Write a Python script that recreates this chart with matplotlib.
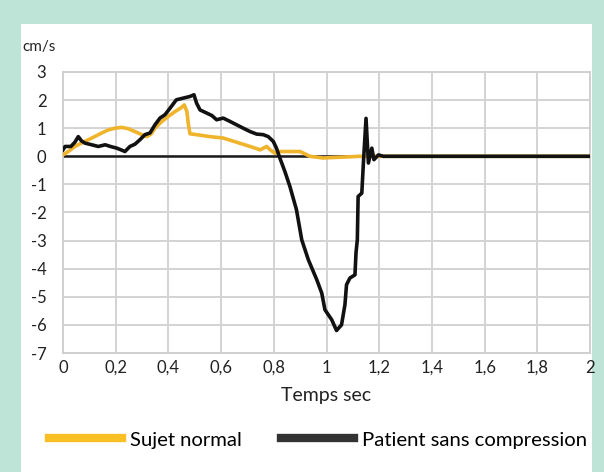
import matplotlib
matplotlib.use("Agg")
import matplotlib.pyplot as plt
from matplotlib.patches import Rectangle

# Courbes (temps en s, vitesse en cm/s)
t_patient = [0, 0.008, 0.03, 0.045, 0.058, 0.07, 0.083, 0.109, 0.134, 0.16, 0.18,
             0.204, 0.22, 0.235, 0.254, 0.273, 0.292, 0.311, 0.33, 0.349, 0.368,
             0.387, 0.406, 0.43, 0.456, 0.482, 0.497, 0.507, 0.52, 0.545, 0.565,
             0.583, 0.608, 0.634, 0.659, 0.684, 0.71, 0.735, 0.76, 0.779, 0.798,
             0.81, 0.823, 0.842, 0.861, 0.886, 0.906, 0.931, 0.963, 0.982, 0.994,
             1.02, 1.038, 1.057, 1.07, 1.076, 1.089, 1.108, 1.112, 1.117, 1.12,
             1.134, 1.14, 1.15, 1.159, 1.172, 1.18, 1.197, 1.216, 1.4, 1.6, 1.8, 2.0]
v_patient = [0.23, 0.35, 0.35, 0.5, 0.70, 0.55, 0.47, 0.41, 0.35, 0.41, 0.35,
             0.29, 0.23, 0.17, 0.35, 0.43, 0.59, 0.77, 0.83, 1.12, 1.36,
             1.48, 1.71, 2.01, 2.07, 2.13, 2.19, 1.89, 1.65, 1.54, 1.45,
             1.30, 1.36, 1.24, 1.12, 1.0, 0.88, 0.79, 0.77, 0.70, 0.53,
             0.29, -0.06, -0.54, -1.07, -1.9, -2.97, -3.68, -4.39, -4.87, -5.46,
             -5.82, -6.2, -6.0, -5.28, -4.57, -4.33, -4.22, -3.43, -2.97, -1.43,
             -1.31, -0.24, 1.35, -0.24, 0.29, -0.12, 0.05, 0, 0, 0, 0, 0]

t_normal = [0, 0.02, 0.045, 0.07, 0.096, 0.12, 0.147, 0.172, 0.197, 0.223, 0.248,
            0.273, 0.299, 0.318, 0.335, 0.349, 0.375, 0.4, 0.425, 0.45, 0.46, 0.47,
            0.476, 0.482, 0.507, 0.558, 0.608, 0.659, 0.71, 0.748, 0.773, 0.786,
            0.805, 0.823, 0.9, 0.937, 0.987, 1.127, 1.4, 1.6, 1.8, 2.0]
v_normal = [0.05, 0.17, 0.35, 0.47, 0.59, 0.70, 0.83, 0.94, 1.0, 1.03, 0.98,
            0.88, 0.77, 0.70, 0.80, 1.0, 1.24, 1.42, 1.59, 1.74, 1.83, 1.6,
            1.12, 0.8, 0.77, 0.70, 0.65, 0.50, 0.35, 0.23, 0.35, 0.23,
            0.11, 0.17, 0.17, 0, -0.06, 0, 0, 0, 0, 0]

x_ticks = [0, 0.2, 0.4, 0.6, 0.8, 1.0, 1.2, 1.4, 1.6, 1.8, 2.0]
x_labels = ['0', '0,2', '0,4', '0,6', '0,8', '1', '1,2', '1,4', '1,6', '1,8', '2']
y_ticks = [-7, -6, -5, -4, -3, -2, -1, 0, 1, 2, 3]

plt.rcParams['font.family'] = ['Lato', 'DejaVu Sans']
plt.rcParams['axes.unicode_minus'] = False

fig = plt.figure(figsize=(6.04, 4.72), dpi=100, facecolor='#bee3d7')
# panneau blanc dans le cadre vert
fig.add_artist(Rectangle((21 / 604, 0), 571 / 604, 1 - 24 / 472,
                         transform=fig.transFigure, facecolor='white',
                         edgecolor='none', zorder=-1))

ax = fig.add_axes([63 / 604, 1 - 353 / 472, 527 / 604, 281 / 472])
ax.set_zorder(1)
ax.set_xlim(0, 2)
ax.set_ylim(-7, 3)

ax.set_xticks(x_ticks)
ax.set_xticklabels(x_labels)
ax.set_yticks(y_ticks)
ax.tick_params(length=0, labelsize=12, colors='#222222')
ax.tick_params(axis='y', pad=12)
ax.tick_params(axis='x', pad=5)
ax.grid(True, color='#d3d3d3', lw=1.4)
for s in ax.spines.values():
    s.set_color('#cfcfcf')
    s.set_linewidth(1.4)

ax.axhline(0, color='#1a1a1a', lw=1.8, zorder=2)
ax.plot(t_normal, v_normal, color='#f0b42c', lw=2.6, zorder=3, label='Sujet normal')
ax.plot(t_patient, v_patient, color='#111111', lw=2.6, zorder=4,
        label='Patient sans compression')

ax.set_xlabel('Temps sec', fontsize=14, color='#222222', labelpad=8)
fig.text(22 / 604, 1 - 47 / 472, 'cm/s', fontsize=11, va='center', color='#222222')

leg = fig.legend(handles=[
    plt.Line2D([], [], color='#fbbf26', lw=6),
    plt.Line2D([], [], color='#333333', lw=6)],
    labels=['Sujet normal', 'Patient sans compression'],
    loc='center', bbox_to_anchor=(318 / 604, 1 - 440 / 472), ncol=2,
    frameon=False, fontsize=14.6, handlelength=3.6, handletextpad=0.4,
    columnspacing=1.9)

fig.savefig('out.png', dpi=100, facecolor=fig.get_facecolor())
